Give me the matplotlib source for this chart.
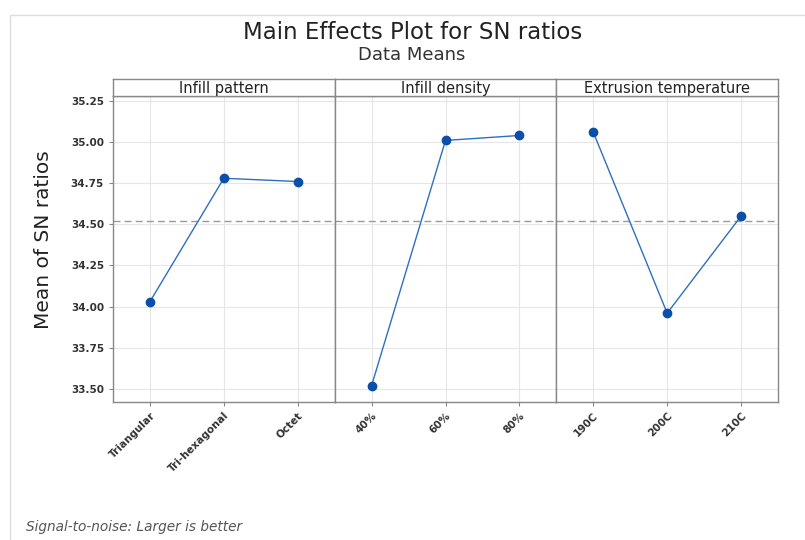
import numpy as np
import matplotlib
matplotlib.use('Agg')
import matplotlib.pyplot as plt
from matplotlib.patches import Rectangle

# factor levels and mean SN ratios
factors = ['Infill pattern', 'Infill density', 'Extrusion temperature']
levels = [['Triangular', 'Tri-hexagonal', 'Octet'],
          ['40%', '60%', '80%'],
          ['190C', '200C', '210C']]
pattern_sn = [34.03, 34.78, 34.76]
density_sn = [33.52, 35.01, 35.04]
temp_sn = [35.06, 33.96, 34.55]
grand_mean = 34.52
yticks = [33.50, 33.75, 34.00, 34.25, 34.50, 34.75, 35.00, 35.25]

series = [pattern_sn, density_sn, temp_sn]

plt.rcParams['font.family'] = ['DejaVu Sans']
fig = plt.figure(figsize=(8.05, 5.4), dpi=100)

# light frame round the figure
fig.patches.append(Rectangle((10/805, -0.01), 1.0, 1 - 15/540 + 0.01, transform=fig.transFigure,
                             fill=False, edgecolor='#dddddd', lw=1.0))

fig.text(0.512, 0.94, 'Main Effects Plot for SN ratios', ha='center', va='center',
         fontsize=16.5, color='#222222')
fig.text(0.512, 0.899, 'Data Means', ha='center', va='center', fontsize=13, color='#333333')

left, right = 113/805, 778/805
bottom, top = 1 - 402/540, 1 - 96/540
strip_h = 17/540
w = (right - left) / 3
tick_font = dict(family='DejaVu Sans', fontsize=7.5, fontweight='bold', color='#333333')

axes = []
for ii in range(3):
    ax = fig.add_axes([left + ii*w, bottom, w, top - bottom])
    xs = np.arange(1, 4)
    ax.axhline(grand_mean, color='#999999', ls=(0, (5, 3)), lw=1.0, zorder=1)
    ax.plot(xs, series[ii], color='#2f6fbf', lw=1.0, zorder=3)
    ax.plot(xs, series[ii], 'o', color='#0b4fa8', ms=6, zorder=4)
    ax.set_xlim(0.5, 3.5)
    ax.set_ylim(33.42, 35.28)
    ax.set_yticks(yticks)
    ax.set_xticks(xs)
    ax.set_xticklabels(levels[ii], rotation=45, ha='right', rotation_mode='anchor', **tick_font)
    ax.grid(True, color='#e6e6e6', lw=0.8, zorder=0)
    ax.set_axisbelow(True)
    for sp in ax.spines.values():
        sp.set_color('#888888')
        sp.set_linewidth(1.0)
    ax.tick_params(axis='x', length=3, color='#888888', pad=3)
    if ii == 0:
        ax.set_yticklabels(['%.2f' % v for v in yticks], **tick_font)
        ax.tick_params(axis='y', length=3, color='#888888')
        ax.set_ylabel('Mean of SN ratios', fontsize=14.5, color='#222222')
        ax.yaxis.set_label_coords(-0.27, 0.53)
    else:
        ax.tick_params(axis='y', length=0, labelleft=False)
    # strip header
    sax = fig.add_axes([left + ii*w, top, w, strip_h])
    sax.set_xticks([])
    sax.set_yticks([])
    sax.set_facecolor('white')
    for sp in sax.spines.values():
        sp.set_color('#888888')
        sp.set_linewidth(1.0)
    sax.text(0.5, 0.45, factors[ii], ha='center', va='center', fontsize=10.5,
             color='#222222', transform=sax.transAxes)
    axes.append(ax)

fig.text(26/805, 1 - 527/540, 'Signal-to-noise: Larger is better', ha='left', va='center',
         fontsize=9.8, style='italic', color='#555555')

plt.savefig('out.png', dpi=100)
plt.close()
